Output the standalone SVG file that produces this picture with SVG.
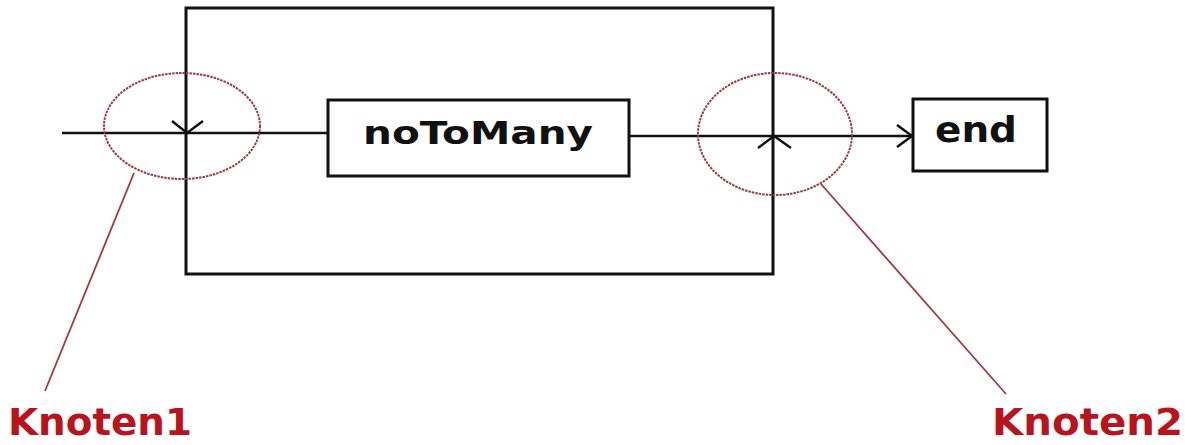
<svg xmlns="http://www.w3.org/2000/svg" width="1185" height="445" viewBox="0 0 1185 445">
<style>
.box{fill:none;stroke:#111;stroke-width:3}
.wire{fill:none;stroke:#111;stroke-width:2.5}
.ring{fill:none;stroke:#9a3a44;stroke-width:2;stroke-dasharray:2.5 1}
.lead{fill:none;stroke:#a03a40;stroke-width:1.8}
.lbl{font-family:"DejaVu Sans","Liberation Sans",sans-serif;font-weight:bold;fill:#111}
.knot{font-family:"DejaVu Sans","Liberation Sans",sans-serif;font-weight:bold;fill:#b8141e}
</style>
<rect width="1185" height="445" fill="#fff"/>
<g id="frame"><rect class="box" x="186" y="8" width="587" height="266"/></g>
<g id="connectors">
<line class="wire" x1="62" y1="133" x2="328" y2="133"/>
<line class="wire" x1="629" y1="136" x2="912" y2="136"/>
<polyline class="wire" points="897,125 912,136 897,147"/>
<polyline class="wire" points="172,121 187,133 203,121"/>
<polyline class="wire" points="758,148 774,136 791,148"/>
</g>
<g id="noToMany"><rect class="box" x="328" y="100" width="301" height="76"/><text class="lbl" x="478" y="144" font-size="32" text-anchor="middle" textLength="230" lengthAdjust="spacingAndGlyphs">noToMany</text></g>
<g id="end"><rect class="box" x="913" y="99" width="134" height="72"/><text class="lbl" x="976" y="142" font-size="36" text-anchor="middle" textLength="82" lengthAdjust="spacingAndGlyphs">end</text></g>
<g id="Knoten1"><ellipse class="ring" cx="182" cy="126" rx="78" ry="53"/><line class="lead" x1="134" y1="173" x2="45" y2="391"/><text class="knot" x="8" y="435" font-size="37" textLength="184" lengthAdjust="spacingAndGlyphs">Knoten1</text></g>
<g id="Knoten2"><ellipse class="ring" cx="775" cy="134" rx="77" ry="61"/><line class="lead" x1="821" y1="184" x2="1006" y2="394"/><text class="knot" x="992" y="435" font-size="37" textLength="191" lengthAdjust="spacingAndGlyphs">Knoten2</text></g>
</svg>
